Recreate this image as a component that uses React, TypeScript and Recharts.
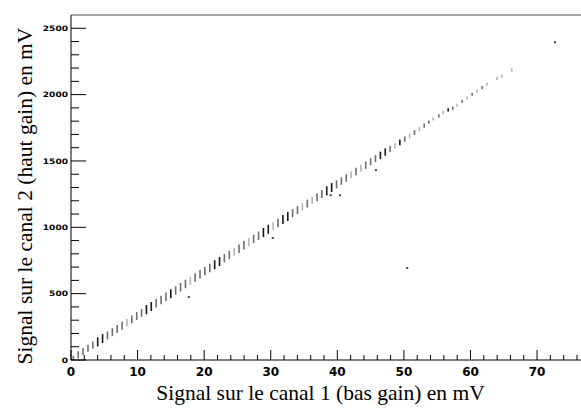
import React from 'react';
import { ScatterChart, Scatter, XAxis, YAxis, ErrorBar, ReferenceLine } from 'recharts';

// main band: one column per ADC bin of channel 1 (x in mV, centre y in mV, half height, shade)
const colX = [
  0.35, 1.08, 1.81, 2.55, 3.28, 4.01, 4.74, 5.47, 6.21, 6.94,
  7.67, 8.4, 9.13, 9.87, 10.6, 11.33, 12.06, 12.79, 13.53, 14.26,
  14.99, 15.72, 16.45, 17.19, 17.92, 18.65, 19.38, 20.11, 20.85, 21.58,
  22.31, 23.04, 23.77, 24.51, 25.24, 25.97, 26.7, 27.43, 28.17, 28.9,
  29.63, 30.36, 31.09, 31.83, 32.56, 33.29, 34.02, 34.75, 35.49, 36.22,
  36.95, 37.68, 38.41, 39.15, 39.88, 40.61, 41.34, 42.07, 42.81, 43.54,
  44.27, 45.0, 45.73, 46.47, 47.2, 47.93, 48.66, 49.39, 50.13, 50.86,
  51.59, 52.32, 53.05,
];
const colY = [
  16, 40, 64, 88, 113, 137, 161, 185, 210, 234,
  258, 282, 306, 331, 355, 379, 403, 427, 452, 476,
  500, 524, 549, 573, 597, 621, 646, 670, 694, 718,
  742, 767, 791, 815, 839, 864, 888, 912, 936, 961,
  985, 1009, 1033, 1058, 1082, 1106, 1130, 1154, 1179, 1203,
  1227, 1251, 1275, 1300, 1324, 1348, 1372, 1397, 1421, 1445,
  1469, 1494, 1518, 1542, 1567, 1591, 1616, 1640, 1665, 1689,
  1714, 1740, 1766,
];
const colErr = [
  16, 26, 26, 26, 26, 34, 34, 30, 30, 30,
  30, 28, 30, 30, 30, 34, 34, 32, 32, 32,
  34, 32, 32, 32, 30, 32, 32, 32, 32, 34,
  34, 32, 32, 30, 32, 32, 30, 32, 32, 34,
  34, 30, 32, 34, 34, 30, 30, 28, 30, 28,
  30, 30, 34, 34, 30, 28, 28, 26, 28, 26,
  28, 26, 26, 28, 28, 24, 22, 22, 20, 18,
  18, 16, 16,
];
const colShade = [
  1, 1, 1, 1, 1, 2, 2, 1, 1, 1,
  1, 0, 1, 1, 1, 2, 2, 1, 1, 1,
  2, 1, 1, 1, 0, 1, 1, 1, 1, 2,
  2, 1, 1, 0, 1, 1, 0, 1, 1, 2,
  2, 0, 1, 2, 2, 1, 1, 0, 1, 0,
  1, 1, 2, 2, 1, 1, 1, 0, 1, 0,
  1, 1, 1, 2, 2, 1, 0, 2, 1, 0,
  1, 0, 1,
];

// sparse tail above ~53 mV
const tailX = [53.75, 54.4, 55.25, 55.9, 56.65, 57.35, 58.0, 58.75, 59.5, 60.25, 61.0, 61.75, 62.5, 63.97, 64.7, 66.2];
const tailY = [1792, 1816, 1840, 1866, 1885, 1898, 1920, 1950, 1975, 2003, 2026, 2053, 2078, 2123, 2139, 2184];
const tailShade = [1, 0, 1, 0, 2, 1, 0, 1, 0, 1, 0, 1, 0, 0, 0, 0];

// isolated entries off the band
const outX = [17.7, 30.3, 39.0, 40.4, 45.8, 50.5, 72.7];
const outY = [474, 919, 1242, 1242, 1431, 693, 2395];

const xTicks = [0, 2, 4, 6, 8, 10, 12, 14, 16, 18, 20, 22, 24, 26, 28, 30, 32, 34, 36, 38,
  40, 42, 44, 46, 48, 50, 52, 54, 56, 58, 60, 62, 64, 66, 68, 70, 72, 74, 76];
const yTicks = [0, 100, 200, 300, 400, 500, 600, 700, 800, 900, 1000, 1100, 1200, 1300, 1400,
  1500, 1600, 1700, 1800, 1900, 2000, 2100, 2200, 2300, 2400, 2500];

const xTitle = 'Signal sur le canal 1 (bas gain) en mV';
const yTitle = 'Signal sur le canal 2 (haut gain) en mV';

const SHADES = ['#b4b4b4', '#6e6e6e', '#151515'];
const SANS = 'DejaVu Sans';

// svg text would not pick up a serif face here, so the titles are html
const titleStyle: React.CSSProperties = {
  position: 'absolute',
  fontFamily: '"Times New Roman", Times, serif',
  fontSize: 21.5,
  lineHeight: '24px',
  height: 24,
  color: '#000',
  whiteSpace: 'nowrap',
  textAlign: 'center',
};

const band = [0, 1, 2].map((s) => {
  const pts: { x: number; y: number; e: number }[] = [];
  colX.forEach((x, i) => {
    if (colShade[i] === s) pts.push({ x, y: colY[i], e: colErr[i] });
  });
  tailX.forEach((x, i) => {
    if (tailShade[i] === s) pts.push({ x, y: tailY[i], e: 12 });
  });
  return pts;
});

const outliers = outX.map((x, i) => ({ x, y: outY[i] }));

const noMarker = () => <g />;
const dot = (p: any) => <rect x={p.cx - 1} y={p.cy - 1} width={2} height={2} fill="#444" />;

const XTick = ({ x, y, payload }: any) => {
  const major = payload.value % 10 === 0;
  return (
    <g>
      <line x1={x} y1={y} x2={x} y2={y - (major ? 10 : 5)} stroke="#000" strokeWidth={1} />
      {major && (
        <text x={x} y={y + 16} textAnchor="middle" fontFamily={SANS} fontWeight="bold" fontSize={12}
          fill="#000">
          {payload.value}
        </text>
      )}
    </g>
  );
};

const YTick = ({ x, y, payload }: any) => {
  const major = payload.value % 500 === 0;
  const label = String(payload.value);
  return (
    <g>
      <line x1={x} y1={y} x2={x + (major ? 15 : 8)} y2={y} stroke="#000" strokeWidth={1} />
      {major && (
        <text x={x - 3} y={y + 2.8} textAnchor="end" fontFamily={SANS} fontWeight="bold" fontSize={7.5}
          fill="#000" textLength={label.length * 6.3} lengthAdjust="spacingAndGlyphs">
          {label}
        </text>
      )}
    </g>
  );
};

export default function App() {
  return (
    <div style={{ position: 'absolute', left: 0, top: 0, width: 581, height: 418, background: '#fff' }}>
      <ScatterChart width={581} height={418} margin={{ top: 15, right: 0, bottom: 0, left: 0 }}>
        <XAxis type="number" dataKey="x" domain={[0, 76.6]} ticks={xTicks} interval={0}
          allowDataOverflow height={58} tickSize={0} tickMargin={0} tick={(p: any) => <XTick {...p} />}
          axisLine={{ stroke: '#000', strokeWidth: 1 }} />
        <YAxis type="number" dataKey="y" domain={[0, 2600]} ticks={yTicks} interval={0}
          allowDataOverflow width={71} tickSize={0} tickMargin={0} tick={(p: any) => <YTick {...p} />}
          axisLine={{ stroke: '#000', strokeWidth: 1 }} />
        <ReferenceLine y={2600} stroke="#8a8a8a" strokeWidth={1.5} />
        {band.map((pts, s) => (
          <Scatter key={s} data={pts} shape={noMarker} isAnimationActive={false}>
            <ErrorBar dataKey="e" direction="y" width={0} stroke={SHADES[s]} strokeWidth={1.6}
              isAnimationActive={false} />
          </Scatter>
        ))}
        <Scatter data={outliers} shape={dot} isAnimationActive={false} />
      </ScatterChart>
      <div style={{ ...titleStyle, left: 138, top: 381, width: 365 }}>{xTitle}</div>
      <div style={{ ...titleStyle, left: -158, top: 183.5, width: 365, transform: 'rotate(-90deg)' }}>
        {yTitle}
      </div>
    </div>
  );
}
